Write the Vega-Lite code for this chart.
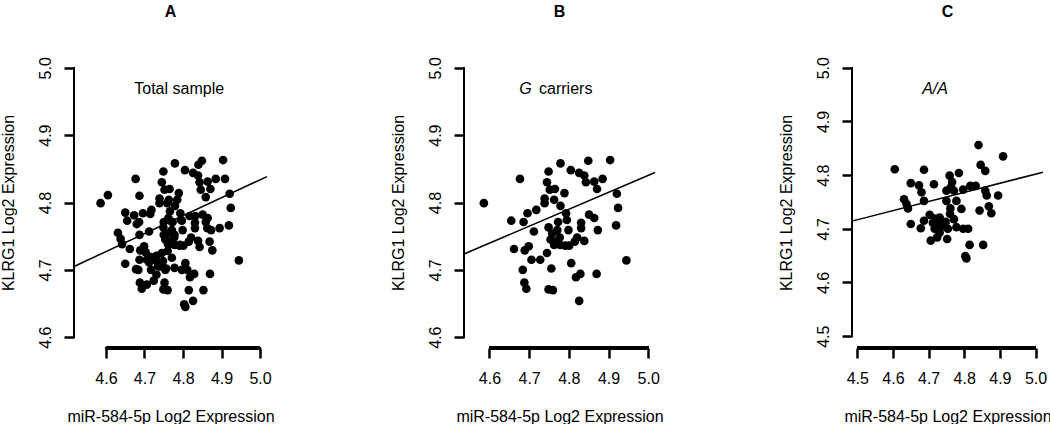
{
  "$schema": "https://vega.github.io/schema/vega-lite/v6.json",
  "background": "white",
  "padding": {"left": 0, "top": 3, "right": 0, "bottom": 0},
  "config": {
    "view": {"stroke": null},
    "font": "Liberation Sans",
    "title": {"fontSize": 16, "fontWeight": "bold", "font": "Liberation Sans", "color": "black", "baseline": "alphabetic", "offset": 37, "anchor": "middle"},
    "axis": {"domain": false, "grid": false, "ticks": true, "tickSize": 10, "tickColor": "#000000", "tickWidth": 2.5, "labelFontSize": 16, "labelColor": "black", "labelFont": "Liberation Sans", "titleFontSize": 16, "titleFontWeight": "normal", "titleColor": "black", "titleFont": "Liberation Sans", "labelFlush": false, "labelOverlap": false, "format": ".1f", "tickCount": 10},
    "axisX": {"labelPadding": 25, "labelBaseline": "alphabetic", "titleY": 73, "titleBaseline": "alphabetic"},
    "axisY": {"labelAngle": 270, "labelAlign": "center", "labelBaseline": "alphabetic", "labelPadding": 14, "titleAngle": 270, "titleX": -61, "titleY": 145.5, "titleAlign": "center", "titleBaseline": "alphabetic"}
  },
  "datasets": {
    "pts": [
      {"g":"G","x":4.586,"y":4.799},{"g":"G","x":4.655,"y":4.773},{"g":"G","x":4.677,"y":4.835},{"g":"G","x":4.686,"y":4.771},{"g":"G","x":4.696,"y":4.784},{"g":"G","x":4.718,"y":4.789},{"g":"G","x":4.712,"y":4.757},{"g":"G","x":4.662,"y":4.731},{"g":"G","x":4.689,"y":4.729},{"g":"G","x":4.699,"y":4.735},{"g":"G","x":4.706,"y":4.715},{"g":"G","x":4.728,"y":4.715},{"g":"G","x":4.684,"y":4.700},{"g":"G","x":4.688,"y":4.681},{"g":"G","x":4.693,"y":4.672},{"g":"G","x":4.745,"y":4.725},{"g":"G","x":4.756,"y":4.702},{"g":"G","x":4.749,"y":4.671},{"g":"G","x":4.760,"y":4.670},{"g":"G","x":4.749,"y":4.846},{"g":"G","x":4.745,"y":4.830},{"g":"G","x":4.752,"y":4.819},{"g":"G","x":4.765,"y":4.820},{"g":"G","x":4.739,"y":4.806},{"g":"G","x":4.739,"y":4.799},{"g":"G","x":4.763,"y":4.804},{"g":"G","x":4.779,"y":4.858},{"g":"G","x":4.789,"y":4.814},{"g":"G","x":4.779,"y":4.795},{"g":"G","x":4.749,"y":4.763},{"g":"G","x":4.758,"y":4.754},{"g":"G","x":4.773,"y":4.771},{"g":"G","x":4.771,"y":4.759},{"g":"G","x":4.777,"y":4.748},{"g":"G","x":4.763,"y":4.737},{"g":"G","x":4.778,"y":4.737},{"g":"G","x":4.791,"y":4.736},{"g":"G","x":4.795,"y":4.774},{"g":"G","x":4.799,"y":4.759},{"g":"G","x":4.801,"y":4.736},{"g":"G","x":4.793,"y":4.784},{"g":"G","x":4.805,"y":4.848},{"g":"G","x":4.826,"y":4.844},{"g":"G","x":4.839,"y":4.840},{"g":"G","x":4.849,"y":4.862},{"g":"G","x":4.843,"y":4.830},{"g":"G","x":4.864,"y":4.831},{"g":"G","x":4.885,"y":4.835},{"g":"G","x":4.871,"y":4.820},{"g":"G","x":4.904,"y":4.863},{"g":"G","x":4.851,"y":4.782},{"g":"G","x":4.864,"y":4.777},{"g":"G","x":4.831,"y":4.770},{"g":"G","x":4.831,"y":4.762},{"g":"G","x":4.821,"y":4.748},{"g":"G","x":4.839,"y":4.743},{"g":"G","x":4.815,"y":4.742},{"g":"G","x":4.873,"y":4.759},{"g":"G","x":4.921,"y":4.813},{"g":"G","x":4.924,"y":4.792},{"g":"G","x":4.919,"y":4.766},{"g":"G","x":4.945,"y":4.714},{"g":"G","x":4.806,"y":4.710},{"g":"G","x":4.829,"y":4.694},{"g":"G","x":4.818,"y":4.689},{"g":"G","x":4.870,"y":4.694},{"g":"G","x":4.826,"y":4.654},{"g":"G","x":4.754,"y":4.745},{"g":"G","x":4.766,"y":4.742},
      {"g":"AA","x":4.605,"y":4.811},{"g":"AA","x":4.687,"y":4.810},{"g":"AA","x":4.650,"y":4.785},{"g":"AA","x":4.673,"y":4.781},{"g":"AA","x":4.680,"y":4.768},{"g":"AA","x":4.715,"y":4.783},{"g":"AA","x":4.631,"y":4.755},{"g":"AA","x":4.638,"y":4.746},{"g":"AA","x":4.642,"y":4.738},{"g":"AA","x":4.687,"y":4.752},{"g":"AA","x":4.759,"y":4.799},{"g":"AA","x":4.766,"y":4.787},{"g":"AA","x":4.785,"y":4.804},{"g":"AA","x":4.750,"y":4.771},{"g":"AA","x":4.762,"y":4.777},{"g":"AA","x":4.771,"y":4.771},{"g":"AA","x":4.750,"y":4.752},{"g":"AA","x":4.778,"y":4.752},{"g":"AA","x":4.761,"y":4.738},{"g":"AA","x":4.792,"y":4.737},{"g":"AA","x":4.797,"y":4.773},{"g":"AA","x":4.817,"y":4.780},{"g":"AA","x":4.832,"y":4.780},{"g":"AA","x":4.840,"y":4.856},{"g":"AA","x":4.846,"y":4.819},{"g":"AA","x":4.859,"y":4.808},{"g":"AA","x":4.859,"y":4.771},{"g":"AA","x":4.863,"y":4.762},{"g":"AA","x":4.895,"y":4.762},{"g":"AA","x":4.909,"y":4.835},{"g":"AA","x":4.843,"y":4.734},{"g":"AA","x":4.869,"y":4.742},{"g":"AA","x":4.876,"y":4.729},{"g":"AA","x":4.650,"y":4.709},{"g":"AA","x":4.678,"y":4.701},{"g":"AA","x":4.687,"y":4.715},{"g":"AA","x":4.703,"y":4.726},{"g":"AA","x":4.712,"y":4.711},{"g":"AA","x":4.717,"y":4.700},{"g":"AA","x":4.726,"y":4.715},{"g":"AA","x":4.735,"y":4.706},{"g":"AA","x":4.748,"y":4.713},{"g":"AA","x":4.754,"y":4.700},{"g":"AA","x":4.771,"y":4.718},{"g":"AA","x":4.778,"y":4.703},{"g":"AA","x":4.797,"y":4.700},{"g":"AA","x":4.811,"y":4.700},{"g":"AA","x":4.706,"y":4.678},{"g":"AA","x":4.724,"y":4.684},{"g":"AA","x":4.752,"y":4.681},{"g":"AA","x":4.815,"y":4.670},{"g":"AA","x":4.853,"y":4.670},{"g":"AA","x":4.803,"y":4.649},{"g":"AA","x":4.806,"y":4.645},{"g":"AA","x":4.731,"y":4.693},{"g":"AA","x":4.717,"y":4.719},{"g":"AA","x":4.731,"y":4.721},{"g":"AA","x":4.740,"y":4.705},{"g":"AA","x":4.760,"y":4.728}
    ],
    "lines": [
      {"panel":"A","x":4.517,"y":4.705},{"panel":"A","x":5.018,"y":4.8385},
      {"panel":"B","x":4.536,"y":4.7236},{"panel":"B","x":5.017,"y":4.8445},
      {"panel":"C","x":4.485,"y":4.7143},{"panel":"C","x":5.021,"y":4.8054}
    ]
  },
  "bounds": "flush",
  "spacing": 197,
  "resolve": {"scale": {"x": "independent", "y": "independent"}},
  "hconcat": [
    {
      "width": 193, "height": 291,
      "title": "A",
      "data": {"name": "pts"},
      "layer": [
        {"mark": {"type": "circle", "size": 75, "color": "black", "opacity": 1},
         "encoding": {
           "x": {"field": "x", "type": "quantitative", "scale": {"domain": [4.517, 5.018], "nice": false, "zero": false}, "axis": {"values": [4.6, 4.7, 4.8, 4.9, 5.0], "tickCount": 10, "labelOverlap": false, "ticks": true, "tickColor": "#000000", "tickSize": 10, "tickWidth": 2.5, "title": "miR-584-5p Log2 Expression"}},
           "y": {"field": "y", "type": "quantitative", "scale": {"domain": [4.584, 5.016], "nice": false, "zero": false}, "axis": {"values": [4.6, 4.7, 4.8, 4.9, 5.0], "tickCount": 10, "labelOverlap": false, "ticks": true, "tickColor": "#000000", "tickSize": 10, "tickWidth": 2.5, "title": "KLRG1 Log2 Expression"}}
         }},
        {"data": {"name": "lines"}, "transform": [{"filter": "datum.panel === 'A'"}], "mark": {"type": "line", "color": "black", "strokeWidth": 1.5},
         "encoding": {"x": {"field": "x", "type": "quantitative"}, "y": {"field": "y", "type": "quantitative"}}},
        {"mark": {"type": "rule", "color": "#000000", "strokeWidth": 2.5},
         "encoding": {"x": {"datum": 4.6}, "x2": {"datum": 5.0}, "y": {"datum": 4.584}}},
        {"mark": {"type": "rule", "color": "#000000", "strokeWidth": 2},
         "encoding": {"x": {"datum": 4.517}, "y": {"datum": 4.6}, "y2": {"datum": 5.0}}},
        {"data": {"values": [{}]}, "mark": {"type": "text", "text": "Total sample", "fontSize": 16, "font": "Liberation Sans", "align": "center", "baseline": "alphabetic", "color": "black"},
         "encoding": {"x": {"datum": 4.79}, "y": {"datum": 4.961}}}
      ]
    },
    {
      "width": 191, "height": 291,
      "title": "B",
      "data": {"name": "pts"},
      "transform": [{"filter": "datum.g === 'G'"}],
      "layer": [
        {"mark": {"type": "circle", "size": 75, "color": "black", "opacity": 1},
         "encoding": {
           "x": {"field": "x", "type": "quantitative", "scale": {"domain": [4.536, 5.017], "nice": false, "zero": false}, "axis": {"values": [4.6, 4.7, 4.8, 4.9, 5.0], "tickCount": 10, "labelOverlap": false, "ticks": true, "tickColor": "#000000", "tickSize": 10, "tickWidth": 2.5, "title": "miR-584-5p Log2 Expression"}},
           "y": {"field": "y", "type": "quantitative", "scale": {"domain": [4.584, 5.016], "nice": false, "zero": false}, "axis": {"values": [4.6, 4.7, 4.8, 4.9, 5.0], "tickCount": 10, "labelOverlap": false, "ticks": true, "tickColor": "#000000", "tickSize": 10, "tickWidth": 2.5, "title": "KLRG1 Log2 Expression"}}
         }},
        {"data": {"name": "lines"}, "transform": [{"filter": "datum.panel === 'B'"}], "mark": {"type": "line", "color": "black", "strokeWidth": 1.5},
         "encoding": {"x": {"field": "x", "type": "quantitative"}, "y": {"field": "y", "type": "quantitative"}}},
        {"mark": {"type": "rule", "color": "#000000", "strokeWidth": 2.5},
         "encoding": {"x": {"datum": 4.6}, "x2": {"datum": 5.0}, "y": {"datum": 4.584}}},
        {"mark": {"type": "rule", "color": "#000000", "strokeWidth": 2},
         "encoding": {"x": {"datum": 4.536}, "y": {"datum": 4.6}, "y2": {"datum": 5.0}}},
        {"data": {"values": [{}]}, "mark": {"type": "text", "text": "G", "fontSize": 16, "fontStyle": "italic", "font": "Liberation Sans", "align": "center", "baseline": "alphabetic", "color": "black"},
         "encoding": {"x": {"datum": 4.691}, "y": {"datum": 4.961}}},
        {"data": {"values": [{}]}, "mark": {"type": "text", "text": "carriers", "fontSize": 16, "font": "Liberation Sans", "align": "left", "baseline": "alphabetic", "color": "black"},
         "encoding": {"x": {"datum": 4.725}, "y": {"datum": 4.961}}}
      ]
    },
    {
      "width": 191, "height": 291,
      "title": "C",
      "data": {"name": "pts"},
      "transform": [{"filter": "datum.g === 'AA'"}],
      "layer": [
        {"mark": {"type": "circle", "size": 75, "color": "black", "opacity": 1},
         "encoding": {
           "x": {"field": "x", "type": "quantitative", "scale": {"domain": [4.485, 5.021], "nice": false, "zero": false}, "axis": {"values": [4.5, 4.6, 4.7, 4.8, 4.9, 5.0], "tickCount": 10, "labelOverlap": false, "ticks": true, "tickColor": "#000000", "tickSize": 10, "tickWidth": 2.5, "title": "miR-584-5p Log2 Expression"}},
           "y": {"field": "y", "type": "quantitative", "scale": {"domain": [4.478, 5.02], "nice": false, "zero": false}, "axis": {"values": [4.5, 4.6, 4.7, 4.8, 4.9, 5.0], "tickCount": 10, "labelOverlap": false, "ticks": true, "tickColor": "#000000", "tickSize": 10, "tickWidth": 2.5, "title": "KLRG1 Log2 Expression"}}
         }},
        {"data": {"name": "lines"}, "transform": [{"filter": "datum.panel === 'C'"}], "mark": {"type": "line", "color": "black", "strokeWidth": 1.5},
         "encoding": {"x": {"field": "x", "type": "quantitative"}, "y": {"field": "y", "type": "quantitative"}}},
        {"mark": {"type": "rule", "color": "#000000", "strokeWidth": 2.5},
         "encoding": {"x": {"datum": 4.5}, "x2": {"datum": 5.0}, "y": {"datum": 4.478}}},
        {"mark": {"type": "rule", "color": "#000000", "strokeWidth": 2},
         "encoding": {"x": {"datum": 4.485}, "y": {"datum": 4.5}, "y2": {"datum": 5.0}}},
        {"data": {"values": [{}]}, "mark": {"type": "text", "text": "A/A", "fontSize": 16, "fontStyle": "italic", "font": "Liberation Sans", "align": "center", "baseline": "alphabetic", "color": "black"},
         "encoding": {"x": {"datum": 4.718}, "y": {"datum": 4.9517}}}
      ]
    }
  ]
}
